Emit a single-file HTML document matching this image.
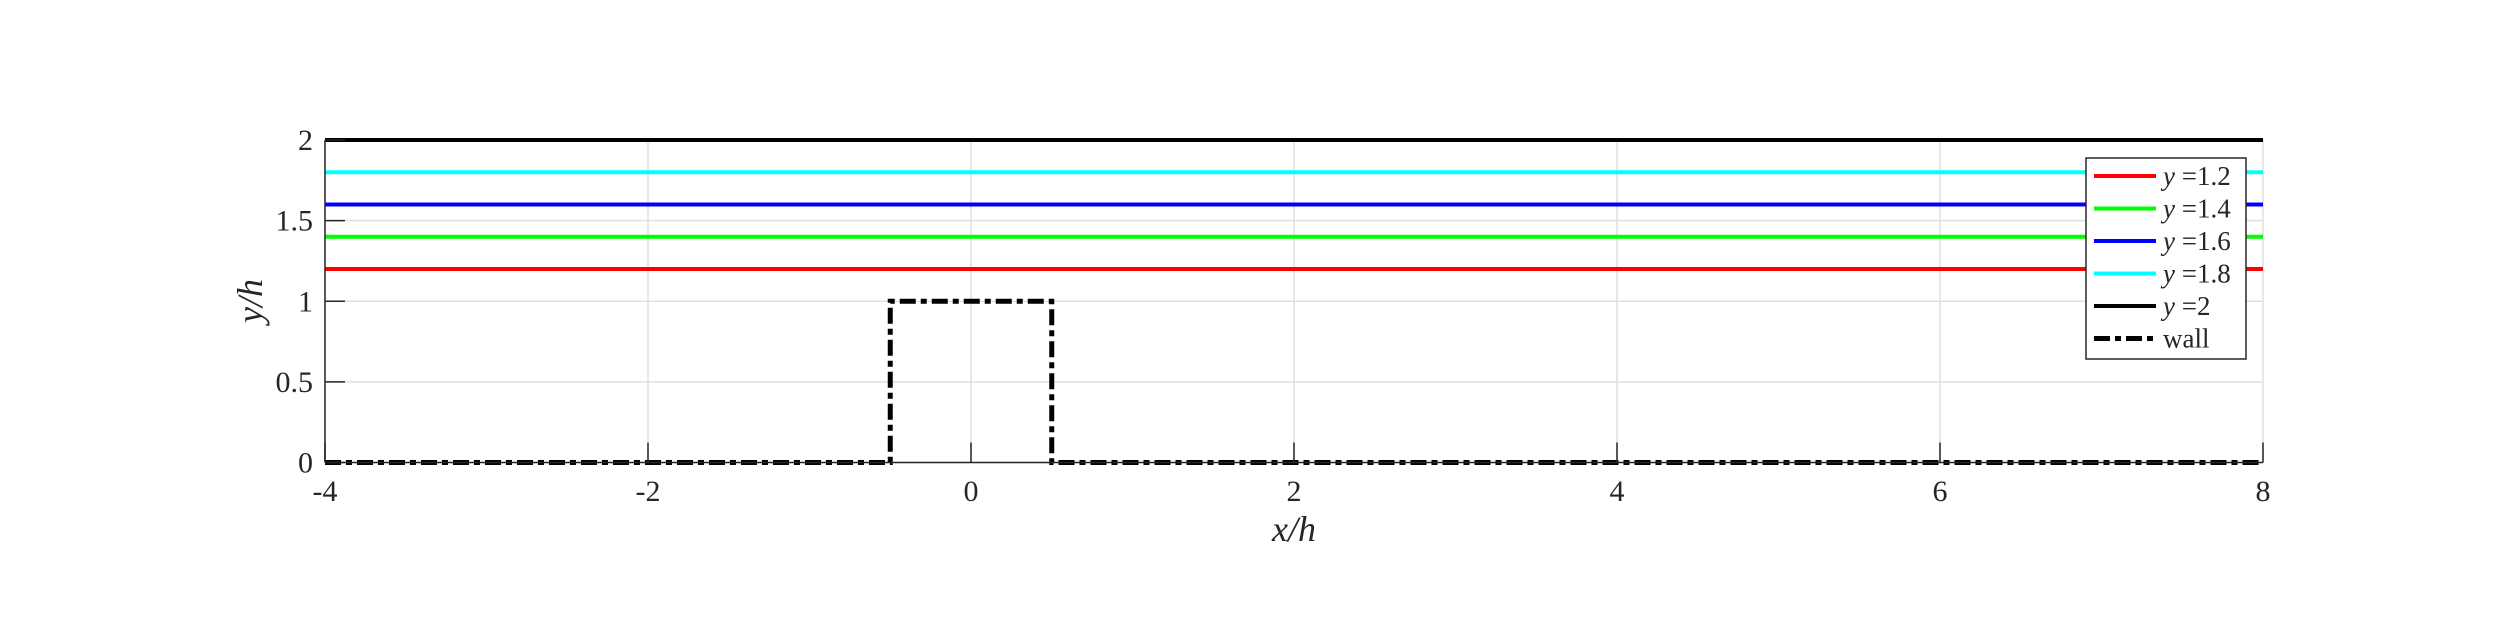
<!DOCTYPE html>
<html><head><meta charset="utf-8"><style>
html,body{margin:0;padding:0;background:#fff;}
svg text{font-family:"Liberation Serif",serif;fill:#262626;}
</style></head><body>
<svg id="chart" width="2500" height="625" viewBox="0 0 2500 625" xmlns="http://www.w3.org/2000/svg">
<rect width="2500" height="625" fill="#fff"/>
<g id="grid"></g>
<g id="series"></g>
<g id="axes"></g>
<text x="1294" y="541" font-size="36" font-style="italic" text-anchor="middle">x/h</text>
<text transform="translate(262,301) rotate(-90)" font-size="36" font-style="italic" text-anchor="middle">y/h</text>
<g id="legend"></g>
</svg>
<script>
const xTicks=[-4,-2,0,2,4,6,8];
const yTicks=[0,0.5,1,1.5,2];
const lineLevels=[1.2,1.4,1.6,1.8,2];
const lineColors=['#ff0000','#00ff00','#0000ff','#00ffff','#000000'];
const lineLabels=['y =1.2','y =1.4','y =1.6','y =1.8','y =2'];
const wallX=[-4,-0.5,-0.5,0.5,0.5,8];
const wallY=[0,0,1,1,0,0];
const L=325,R=2263,T=140,B=462.5;
const xs=v=>L+(v+4)/12*(R-L);
const ys=v=>B-v/2*(B-T);
const NS='http://www.w3.org/2000/svg';
function mk(tag,attrs,parent){const e=document.createElementNS(NS,tag);for(const k in attrs)e.setAttribute(k,attrs[k]);parent.appendChild(e);return e;}
const grid=document.getElementById('grid'),ser=document.getElementById('series'),ax=document.getElementById('axes'),lg=document.getElementById('legend');
xTicks.forEach(t=>{const g=mk('line',{x1:xs(t),x2:xs(t),y1:T,y2:B,stroke:'#dfdfdf','stroke-width':1.5},grid);

});
yTicks.forEach(t=>{const g=mk('line',{x1:L,x2:R,y1:ys(t),y2:ys(t),stroke:'#dfdfdf','stroke-width':1.5},grid);

});
lineLevels.forEach((v,i)=>{const l=mk('line',{x1:xs(-4),x2:xs(8),y1:ys(v),y2:ys(v),stroke:lineColors[i],'stroke-width':4},ser);

});
const wp=mk('polyline',{points:wallX.map((x,i)=>xs(x)+','+ys(wallY[i])).join(' '),fill:'none',stroke:'#000','stroke-width':5,'stroke-dasharray':'16 5 6 5'},ser);


mk('line',{x1:L,x2:L,y1:T,y2:B,stroke:'#262626','stroke-width':1.5},ax);
mk('line',{x1:L,x2:R,y1:B,y2:B,stroke:'#262626','stroke-width':1.5},ax);
xTicks.forEach(t=>{mk('line',{x1:xs(t),x2:xs(t),y1:B,y2:B-20,stroke:'#262626','stroke-width':1.5},ax);
const tx=mk('text',{x:xs(t),y:501,'font-size':30,'text-anchor':'middle'},ax);tx.textContent=t;

});
yTicks.forEach(t=>{mk('line',{x1:L,x2:L+20,y1:ys(t),y2:ys(t),stroke:'#262626','stroke-width':1.5},ax);
const tx=mk('text',{x:313,y:ys(t)+10,'font-size':30,'text-anchor':'end'},ax);tx.textContent=t;

});
mk('rect',{x:2086,y:158,width:160,height:201,fill:'#fff',stroke:'#262626','stroke-width':1.5},lg);
const entries=lineLabels.map((l,i)=>[l,lineColors[i],false]).concat([['wall','#000',true]]);
entries.forEach((e,i)=>{const y=176+i*32.5;
const sw=mk('line',{x1:2094,x2:2156,y1:y,y2:y,stroke:e[1],'stroke-width':e[2]?5:4},lg);
if(e[2])sw.setAttribute('stroke-dasharray','16 5 6 5');


const tx=mk('text',{x:2163,y:y+9,'font-size':27},lg);
if(e[2]){tx.textContent='wall';}else{const parts=e[0].split(' ');const a=mk('tspan',{'font-style':'italic'},tx);a.textContent='y';const b=mk('tspan',{},tx);b.textContent=' '+parts[1];}

});
</script>
</body></html>
